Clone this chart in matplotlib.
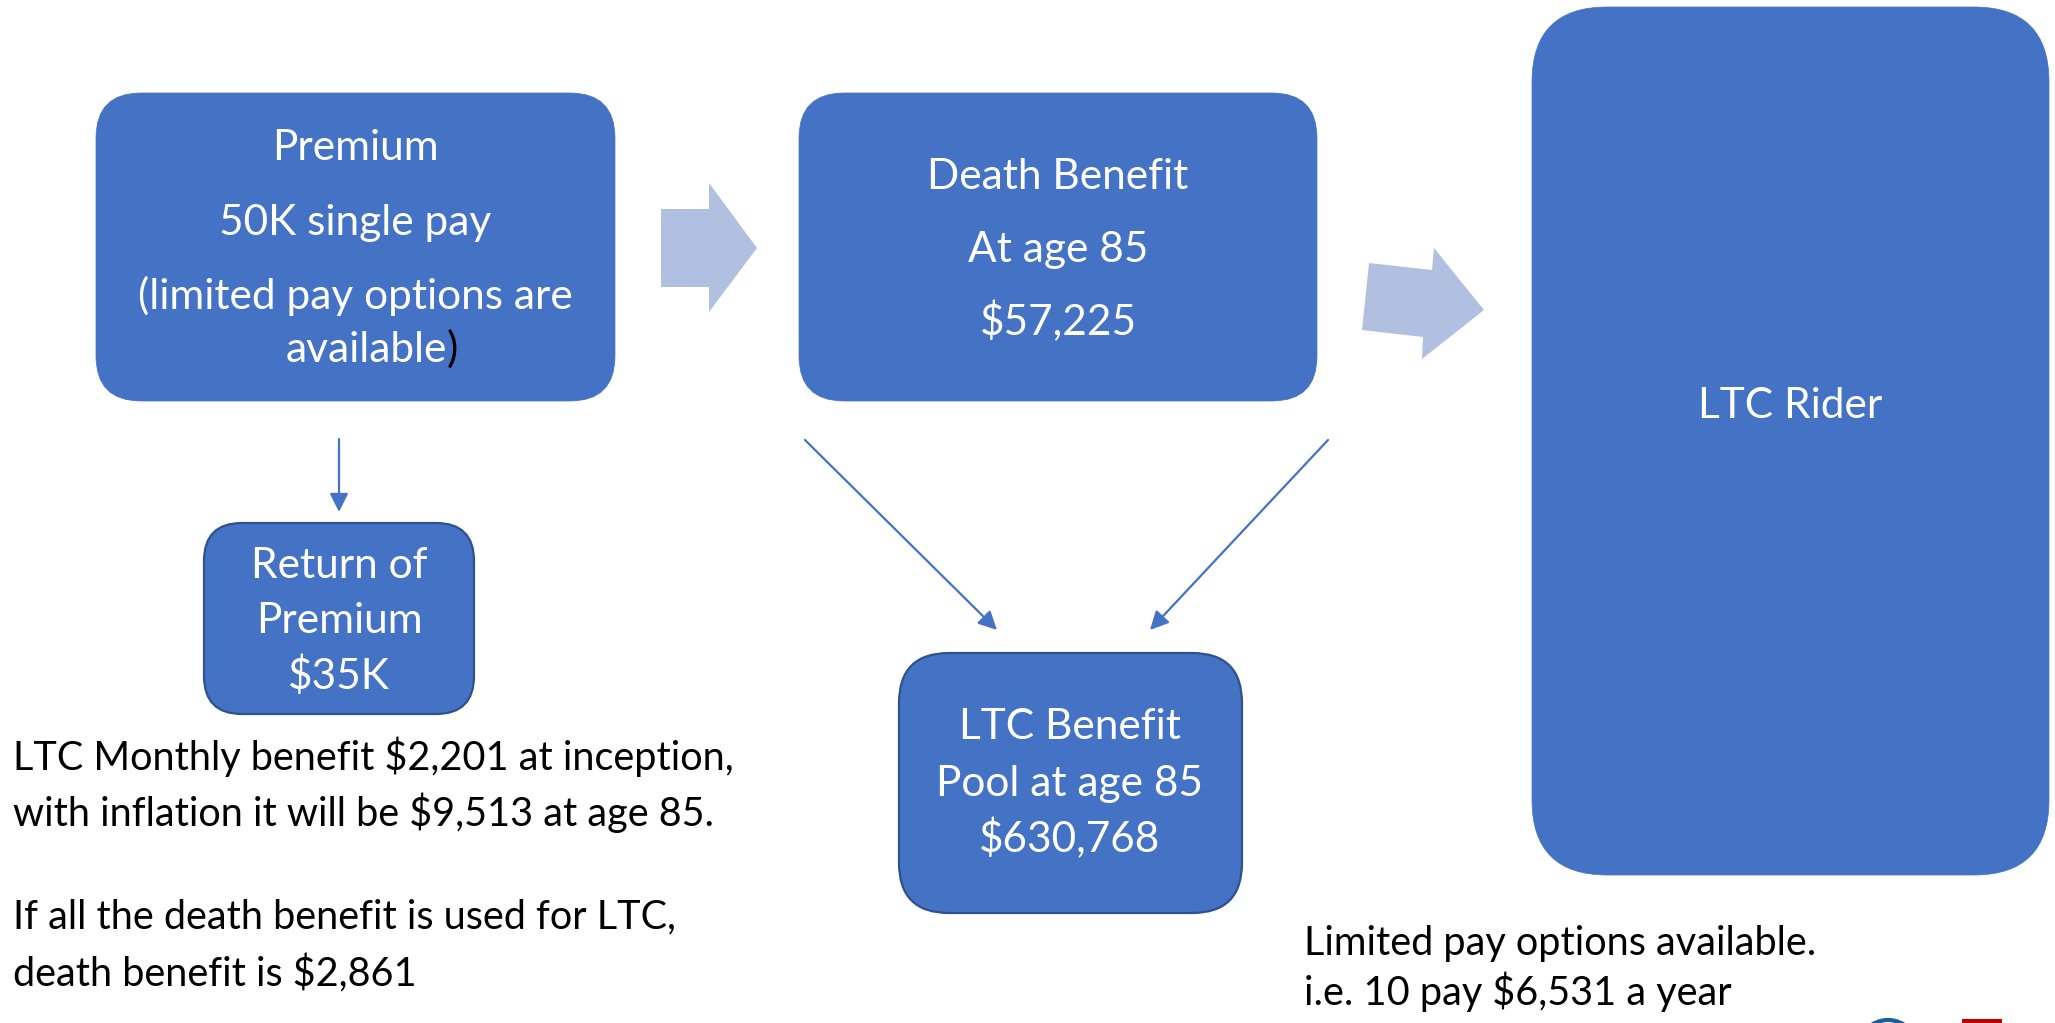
import matplotlib
matplotlib.use("Agg")
import matplotlib.pyplot as plt
from matplotlib.patches import FancyBboxPatch, Polygon, Circle, Rectangle

plt.rcParams['font.family'] = ['Lato', 'DejaVu Sans']

# text of the diagram
premium_lines = ["Premium", "50K single pay", "(limited pay options are"]
premium_last = "available"
death_lines = ["Death Benefit", "At age 85", "\\$57,225"]
rider_lines = ["LTC Rider"]
rop_lines = ["Return of", "Premium", "\\$35K"]
pool_lines = ["LTC Benefit", "Pool at age 85", "\\$630,768"]
left_notes = ["LTC Monthly benefit \\$2,201 at inception,",
              "with inflation it will be \\$9,513 at age 85.",
              "If all the death benefit is used for LTC,",
              "death benefit is \\$2,861"]
right_notes = ["Limited pay options available.",
               "i.e. 10 pay \\$6,531 a year"]

BLUE = '#4472C4'
EDGE = '#2F528F'
LIGHT = '#B1BFE0'
FS = 30.5      # text inside boxes
FS_NOTE = 28.5  # free text below

fig = plt.figure(figsize=(20.55, 10.23), dpi=100)
ax = fig.add_axes([0, 0, 1, 1])
ax.set_xlim(0, 2055)
ax.set_ylim(1023, 0)
ax.axis('off')


def box(x0, y0, x1, y1, r, edge=False):
    p = FancyBboxPatch((x0, y0), x1 - x0, y1 - y0,
                       boxstyle="round,pad=0,rounding_size=%d" % r,
                       facecolor=BLUE, edgecolor=EDGE if edge else BLUE,
                       linewidth=1.6 if edge else 0.5)
    ax.add_patch(p)


def lines(cx, ys, texts, color='white'):
    for y, t in zip(ys, texts):
        ax.text(cx, y, t, ha='center', va='center', fontsize=FS, color=color)


# boxes
box(96, 93, 615, 401, 45)
box(799, 93, 1317, 401, 45)
box(1532, 7, 2049, 875, 75)
box(204, 523, 474, 714, 38, edge=True)
box(899, 653, 1242, 913, 50, edge=True)

lines(355, [148, 223, 296], premium_lines)
t = ax.text(366, 350, premium_last, ha='center', va='center', fontsize=FS, color='white')
ax.annotate(")", xy=(1, 0), xycoords=t, ha='left', va='bottom', fontsize=FS, color='black')
lines(1058, [177, 250, 322], death_lines)
lines(1790, [406], rider_lines)
lines(339, [566, 621, 676], rop_lines)
lines(1070, [727, 784, 839], pool_lines)

# big block arrows
ax.add_patch(Polygon([(661, 209), (709, 209), (709, 183), (757, 248),
                      (709, 312), (709, 287), (661, 287)], closed=True,
                     facecolor=LIGHT, edgecolor='none'))
ax.add_patch(Polygon([(1369, 263), (1432, 270), (1434, 248), (1484, 310),
                      (1422, 359), (1423, 337), (1362, 330)], closed=True,
                     facecolor=LIGHT, edgecolor='none'))

# thin connector arrows
for start, end in [((339, 439), (339, 512)),
                   ((805, 440), (997, 630)),
                   ((1328, 440), (1150, 630))]:
    ax.annotate("", xy=end, xytext=start,
                arrowprops=dict(arrowstyle='-|>', color=BLUE, lw=1.6,
                                mutation_scale=28, shrinkA=0, shrinkB=0))

# notes
for y, t in zip([757, 813, 917, 974], left_notes):
    ax.text(13, y, t, ha='left', va='center', fontsize=FS_NOTE, color='black')
for y, t in zip([944, 992], right_notes):
    ax.text(1304, y, t, ha='left', va='center', fontsize=FS_NOTE, color='black')

# cut-off logo at the bottom edge
ax.add_patch(Circle((1888, 1050), 30, fill=False, edgecolor='#1F5C99', lw=3))
ax.add_patch(Rectangle((1962, 1019), 40, 10, facecolor='#C00000', edgecolor='none'))

fig.savefig('out.png', dpi=100)
